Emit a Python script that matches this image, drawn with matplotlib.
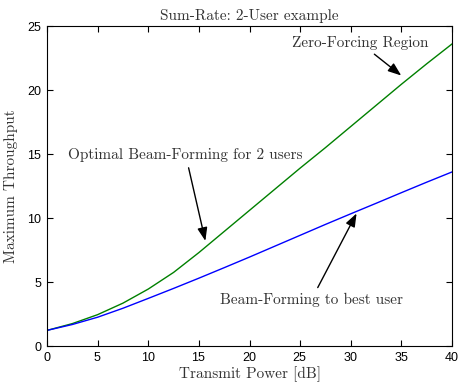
import matplotlib
matplotlib.use('Agg')
import matplotlib.pyplot as plt
import numpy as np

# values
power_db = [0, 2.5, 5, 7.5, 10, 12.5, 15, 17.5, 20, 22.5, 25, 27.5, 30, 32.5, 35, 37.5, 40]
optimal_bf = [1.22, 1.75, 2.45, 3.35, 4.45, 5.75, 7.3, 8.95, 10.6, 12.25, 13.9, 15.5,
              17.15, 18.8, 20.45, 22.05, 23.6]
best_user_bf = [1.22, 1.68, 2.25, 2.95, 3.72, 4.5, 5.3, 6.12, 6.95, 7.8, 8.65, 9.5,
                10.33, 11.15, 11.98, 12.8, 13.6]

serif = dict(family='cmr10', color='#333333')
plt.rcParams['axes.formatter.use_mathtext'] = True

fig = plt.figure(figsize=(4.61, 3.83), dpi=100)
ax = fig.add_axes([0.102, 0.0966, 0.8785, 0.8354])

ax.plot(power_db, optimal_bf, color=(0, 0.5, 0), lw=1)
ax.plot(power_db, best_user_bf, color=(0, 0, 1), lw=1)

ax.set_xlim(0, 40)
ax.set_ylim(0, 25)
ax.set_xticks(np.arange(0, 41, 5))
ax.set_yticks(np.arange(0, 26, 5))
ax.tick_params(direction='in', top=True, right=True, length=4, labelsize=9)
for lab in ax.get_xticklabels() + ax.get_yticklabels():
    lab.set_family('Liberation Sans')

ax.set_title('Sum-Rate: 2-User example', fontsize=11, pad=4, **serif)
ax.set_xlabel('Transmit Power [dB]', fontsize=11, labelpad=2, **serif)
ax.set_ylabel('Maximum Throughput', fontsize=11, labelpad=6, **serif)

# annotations: arrows from text centre to the curves
arrow = dict(arrowstyle='-|>,head_length=0.8,head_width=0.3', color='black',
             lw=1, mutation_scale=10)
ax.annotate('Zero-Forcing Region', xy=(35.2, 21.0), xytext=(30.9, 23.7),
            ha='center', va='center', fontsize=11, arrowprops=arrow, **serif)
ax.annotate('Optimal Beam-Forming for 2 users', xy=(15.7, 8.0), xytext=(13.7, 14.9),
            ha='center', va='center', fontsize=11, arrowprops=arrow, **serif)
ax.annotate('Beam-Forming to best user', xy=(30.7, 10.55), xytext=(26.1, 3.6),
            ha='center', va='center', fontsize=11, arrowprops=arrow, **serif)

fig.savefig('out.png', dpi=100)
